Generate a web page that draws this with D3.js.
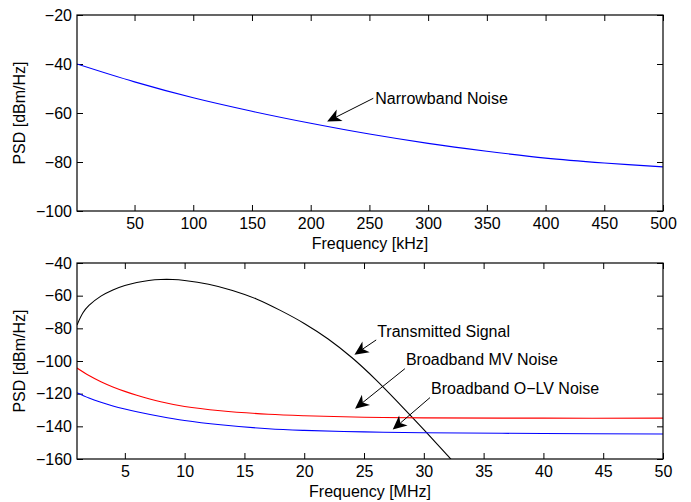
<!DOCTYPE html>
<meta charset="utf-8">
<style>
    body { margin: 0; background: #fff; }
    svg { font-family: "Liberation Sans", Arial, Helvetica, sans-serif; }
    .axis text { font-size: 16px; fill: #000; }
    .axis line { stroke: #000; }
    .lbl { font-size: 16px; fill: #000; }
</style>
<svg width="691" height="502"></svg>
<script src="https://cdn.jsdelivr.net/npm/d3@7"></script>
<script>
    // top panel: narrowband noise (kHz)
    var nbFreq = [1, 50, 100, 150, 200, 250, 300, 350, 400, 450, 500];
    var nbPsd  = [-40, -47.3, -53.8, -59.3, -64.2, -68.6, -72.4, -75.6, -78.4, -80.4, -82.0];
    var topXTicks = [50, 100, 150, 200, 250, 300, 350, 400, 450, 500];
    var topYTicks = [-100, -80, -60, -40, -20];

    // bottom panel (MHz)
    var txFreq = [1, 1.5, 2, 3, 4, 5, 6, 7, 8, 9, 10, 12, 14, 16, 18, 20, 22, 24, 26, 28, 30, 32, 33];
    var txPsd  = [-78, -70.5, -66, -60.3, -56.5, -53.8, -51.9, -50.7, -50.1, -50.1, -50.7, -53, -56.8, -62, -69, -77, -86.5, -98, -111.5, -126.5, -142, -158, -166];
    var mvFreq = [1, 2, 3, 4, 5, 6, 8, 10, 13, 17, 20, 25, 30, 40, 50];
    var mvPsd  = [-104.3, -108.9, -112.7, -115.9, -118.6, -121, -125, -127.9, -130.5, -132.6, -133.5, -134.4, -134.8, -135, -135];
    var lvFreq = [1, 2, 3, 4, 5, 6, 8, 10, 13, 17, 20, 25, 30, 40, 50];
    var lvPsd  = [-119.4, -122.7, -125.3, -127.5, -129.4, -131.1, -134, -136.4, -139, -141.5, -142.5, -143.4, -143.9, -144.4, -144.7];
    var botXTicks = [5, 10, 15, 20, 25, 30, 35, 40, 45, 50];
    var botYTicks = [-160, -140, -120, -100, -80, -60, -40];

    // annotations: [text, textX, textY, tipX, tipY] in data units
    var topNotes = [["Narrowband Noise", 255, -54, 214, -63.5]];
    var botNotes = [
        ["Transmitted Signal", 26.1, -81.6, 24.2, -96.1],
        ["Broadband MV Noise", 28.5, -99.2, 24.25, -129.2],
        ["Broadband O\u2212LV Noise", 30.6, -116.9, 27.4, -142]
    ];

    var svg = d3.select("svg");
    var left = 77, right = 663;

    function panel(id, top, height, xDom, yDom, xTicks, yTicks, xLabel, series, notes) {
        var x = d3.scaleLinear().domain(xDom).range([left, right]);
        var y = d3.scaleLinear().domain(yDom).range([top + height, top]);
        var g = svg.append("g");

        g.append("clipPath").attr("id", id)
            .append("rect").attr("x", left).attr("y", top)
            .attr("width", right - left).attr("height", height);

        g.append("g").attr("class", "axis")
            .attr("transform", "translate(0," + (top + height) + ")")
            .call(d3.axisBottom(x).tickValues(xTicks).tickSizeInner(-6).tickSizeOuter(0).tickPadding(7))
            .call(function(a) { a.select(".domain").remove(); });
        g.append("g").attr("class", "axis")
            .attr("transform", "translate(0," + top + ")")
            .call(d3.axisTop(x).tickValues(xTicks).tickSizeInner(-6).tickSizeOuter(0).tickFormat(""))
            .call(function(a) { a.select(".domain").remove(); });
        g.append("g").attr("class", "axis")
            .attr("transform", "translate(" + left + ",0)")
            .call(d3.axisLeft(y).tickValues(yTicks).tickSizeInner(-6).tickSizeOuter(0).tickPadding(5))
            .call(function(a) { a.select(".domain").remove(); });
        g.append("g").attr("class", "axis")
            .attr("transform", "translate(" + right + ",0)")
            .call(d3.axisRight(y).tickValues(yTicks).tickSizeInner(-6).tickSizeOuter(0).tickFormat(""))
            .call(function(a) { a.select(".domain").remove(); });

        var line = d3.line()
            .x(function(d) { return x(d[0]); })
            .y(function(d) { return y(d[1]); })
            .curve(d3.curveCatmullRom.alpha(0.5));

        series.forEach(function(s) {
            g.append("path")
                .datum(d3.zip(s.f, s.v))
                .attr("clip-path", "url(#" + id + ")")
                .attr("fill", "none")
                .attr("stroke", s.color)
                .attr("stroke-width", 1.1)
                .attr("d", line);
        });

        // box
        g.append("rect").attr("x", left).attr("y", top)
            .attr("width", right - left).attr("height", height)
            .attr("fill", "none").attr("stroke", "#000").attr("stroke-width", 1.2);

        g.append("text").attr("class", "lbl")
            .attr("text-anchor", "middle")
            .attr("x", (left + right) / 2)
            .attr("y", top + height + 38)
            .text(xLabel);
        g.append("text").attr("class", "lbl")
            .attr("text-anchor", "middle")
            .attr("transform", "translate(24.5," + (top + height / 2) + ") rotate(-90)")
            .text("PSD [dBm/Hz]");

        notes.forEach(function(n) {
            var tx = x(n[1]), ty = y(n[2]);
            var sx = tx - 1, sy = ty + 9;
            if (n[0] === "Narrowband Noise") { sx = tx - 2; sy = ty; }
            var ex = x(n[3]), ey = y(n[4]);
            var ang = Math.atan2(ey - sy, ex - sx);
            var L = 14, W = 6.5, back = 10;
            function pt(a, b) {
                // a along arrow (back from tip), b perpendicular
                return [ex - a * Math.cos(ang) - b * Math.sin(ang),
                        ey - a * Math.sin(ang) + b * Math.cos(ang)];
            }
            g.append("line")
                .attr("x1", sx).attr("y1", sy)
                .attr("x2", pt(back, 0)[0]).attr("y2", pt(back, 0)[1])
                .attr("stroke", "#000").attr("stroke-width", 1);
            g.append("path")
                .attr("d", "M" + [ex, ey] + "L" + pt(L, W) + "L" + pt(back, 0) + "L" + pt(L, -W) + "Z")
                .attr("fill", "#000");
            g.append("text").attr("class", "lbl")
                .attr("x", tx).attr("y", ty).attr("dy", "0.35em")
                .text(n[0]);
        });
    }

    panel("clipTop", 15, 196, [1, 500], [-100, -20], topXTicks, topYTicks, "Frequency [kHz]",
        [{f: nbFreq, v: nbPsd, color: "#0000ff"}], topNotes);

    panel("clipBot", 263, 196, [1, 50], [-160, -40], botXTicks, botYTicks, "Frequency [MHz]",
        [{f: txFreq, v: txPsd, color: "#000000"},
         {f: mvFreq, v: mvPsd, color: "#ff0000"},
         {f: lvFreq, v: lvPsd, color: "#0000ff"}], botNotes);
</script>
